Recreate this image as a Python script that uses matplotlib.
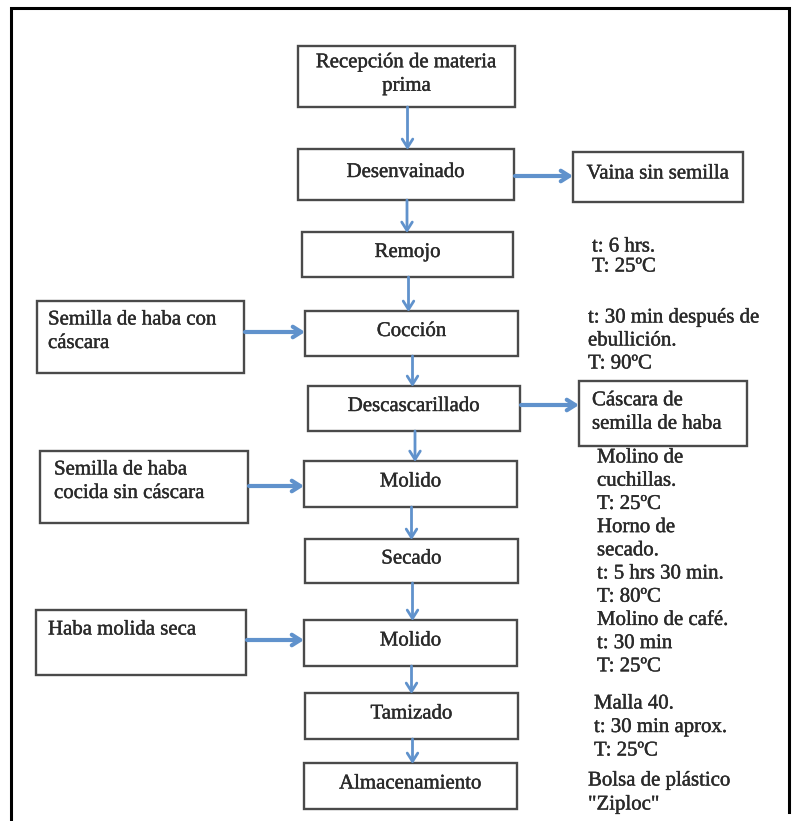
import matplotlib
matplotlib.use("Agg")
import matplotlib.pyplot as plt
import matplotlib.patheffects as pe
from matplotlib.patches import Rectangle

# process steps, main column (top to bottom)
steps = ["Recepción de materia\nprima", "Desenvainado", "Remojo", "Cocción",
         "Descascarillado", "Molido", "Secado", "Molido", "Tamizado",
         "Almacenamiento"]

# inputs on the left, outputs on the right
inputs = ["Semilla de haba con\ncáscara", "Semilla de haba\ncocida sin cáscara",
          "Haba molida seca"]
outputs = ["Vaina sin semilla", "Cáscara de\nsemilla de haba"]

# condition notes to the right of the column
notes = [
    ["t: 6 hrs.", "T: 25ºC"],
    ["t: 30 min después de", "ebullición.", "T: 90ºC"],
    ["Molino de", "cuchillas.", "T: 25ºC", "Horno de", "secado.",
     "t: 5 hrs 30 min.", "T: 80ºC", "Molino de café.", "t: 30 min", "T: 25ºC"],
    ["Malla 40.", "t: 30 min aprox.", "T: 25ºC"],
    ["Bolsa de plástico", "\"Ziploc\""],
]

# layout (pixels, y down)
step_boxes = [(298, 515, 46, 107), (298, 514, 149, 200), (302, 513, 232, 277),
              (305, 518, 311, 356), (308, 520, 386, 431), (304, 517, 461, 507),
              (305, 518, 539, 583), (304, 517, 620, 666), (305, 518, 693, 739),
              (304, 517, 763, 809)]
input_boxes = [(37, 244, 301, 373), (40, 248, 451, 523), (36, 246, 610, 675)]
input_text = [(48, 320), (54, 470), (48, 630)]
input_target = [3, 5, 7]
input_arrow_y = [332, 486, 640]
output_boxes = [(573, 743, 152, 202), (579, 747, 381, 446)]
output_source = [1, 4]
output_arrow_y = [176, 405]
note_pos = [(592, 247, 20), (588, 318, 23), (597, 458, 23.2),
            (594, 704, 23.5), (588, 781, 24)]

W, H = 800, 821
BLUE = "#6092cc"
EDGE = "#4a4a4a"
TXT = "#2a2a2a"
FONT = "Liberation Serif"
FS = 15
LS = 23.5
FX = [pe.withStroke(linewidth=0.3, foreground=TXT)]

fig = plt.figure(figsize=(W / 100, H / 100), dpi=100)
ax = fig.add_axes([0, 0, 1, 1])
ax.set_xlim(0, W)
ax.set_ylim(H, 0)
ax.axis("off")

# outer frame
ax.plot([11, 11, 789, 789], [H, 8, 8, 812], color="black", lw=2.2,
        solid_joinstyle="miter")


def txt(x, y, s, ha="left"):
    ax.text(x, y, s, ha=ha, va="center", fontsize=FS, family=FONT, color=TXT,
            path_effects=FX)


def lines(x, y, label, ha="left", dy=LS):
    for i, s in enumerate(label.split("\n")):
        txt(x, y + i * dy, s, ha)


def box(b):
    x0, x1, y0, y1 = b
    ax.add_patch(Rectangle((x0, y0), x1 - x0, y1 - y0, fill=False,
                           ec=EDGE, lw=1.7))


def arrow(x0, y0, x1, y1, lw):
    ax.annotate("", xy=(x1, y1), xytext=(x0, y0),
                arrowprops=dict(arrowstyle="->,head_length=0.6,head_width=0.38",
                                color=BLUE, lw=lw, shrinkA=0, shrinkB=0))


for label, b in zip(steps, step_boxes):
    box(b)
    x0, x1, y0, y1 = b
    n = label.count("\n")
    lines((x0 + x1) / 2, (y0 + y1) / 2 - 2 - n * LS / 2, label, ha="center")

# vertical arrows between steps
for a, b in zip(step_boxes[:-1], step_boxes[1:]):
    xc = (a[0] + a[1]) / 2 + 1
    arrow(xc, a[3], xc, b[2] + 1, 2.0)

for label, b, (tx, ty), t, ay in zip(inputs, input_boxes, input_text,
                                     input_target, input_arrow_y):
    box(b)
    lines(tx, ty, label)
    arrow(b[1] + 1, ay, step_boxes[t][0], ay, 3.0)

for label, b, s, ay in zip(outputs, output_boxes, output_source, output_arrow_y):
    box(b)
    x0, x1, y0, y1 = b
    if "\n" in label:
        lines(x0 + 13, (y0 + y1) / 2 - LS / 2 - 1, label)
    else:
        txt((x0 + x1) / 2, (y0 + y1) / 2 - 3, label, ha="center")
    arrow(step_boxes[s][1] + 1, ay, x0, ay, 3.0)

for note, (nx, ny, dy) in zip(notes, note_pos):
    lines(nx, ny, "\n".join(note), dy=dy)

fig.savefig("out.png", dpi=100)
